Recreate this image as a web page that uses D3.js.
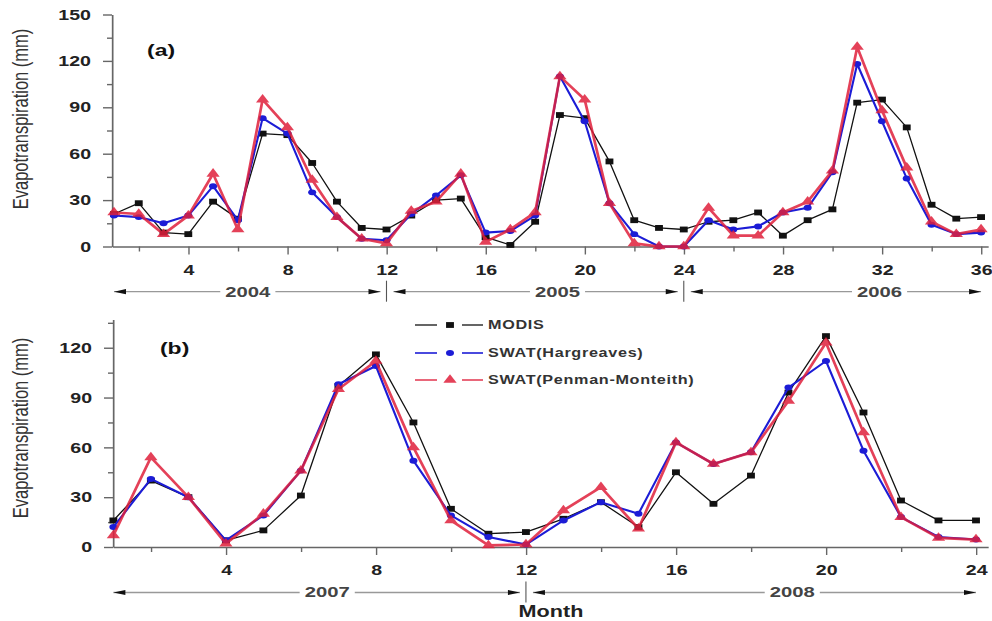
<!DOCTYPE html>
<html>
<head>
<meta charset="utf-8">
<script src="https://cdn.jsdelivr.net/npm/d3@7"></script>
<style>
  html, body { margin: 0; padding: 0; background: #fff; }
  svg { display: block; font-family: "Liberation Sans", Arial, sans-serif; }
  svg path, svg line { vector-effect: non-scaling-stroke; }
</style>
</head>
<body>
<div id="chart"></div>
<script>
// ---- data: monthly evapotranspiration (mm) ----
const monthsA = d3.range(1, 37);
const modisA = [21, 28, 9, 8, 29, 18, 73, 72, 54, 29, 12, 11,
                20, 30, 31, 6, 1, 16, 85, 83, 55, 17, 12, 11,
                16, 17, 22, 7, 17, 24, 93, 95, 77, 27, 18, 19];
const hargA  = [20, 19, 15, 20, 39, 17, 83, 73, 35, 19, 5, 4,
                21, 33, 46, 9, 10, 20, 110, 81, 28, 8, 0, 0,
                17, 11, 13, 22, 25, 48, 118, 81, 44, 14, 8, 9];
const pmA    = [22, 21, 8, 20, 47, 11, 95, 77, 43, 19, 5, 2,
                23, 29, 47, 3, 11, 22, 110, 95, 28, 2, 0, 0,
                25, 7, 7, 22, 29, 49, 129, 88, 51, 16, 8, 11];

const monthsB = d3.range(1, 25);
const modisB = [16, 40, 30, 4, 10, 31, 97, 116, 75, 23, 8, 9,
                17, 27, 12, 45, 26, 43, 93, 127, 81, 28, 16, 16];
const hargB  = [12, 41, 30, 4, 19, 46, 98, 109, 52, 19, 6, 1.5,
                16, 27, 20, 63, 50, 57, 96, 112, 58, 18, 6, 4.5];
const pmB    = [7, 54, 30, 2, 20, 46, 95, 112, 60, 16, 1, 1.5,
                22, 36, 11, 63, 50, 57, 88, 123, 69, 18, 5.5, 4.5];

const seriesNames = ["MODIS", "SWAT(Hargreaves)", "SWAT(Penman-Monteith)"];
const yearsA = ["2004", "2005", "2006"];
const yearSpansA = [[1, 12], [12, 24], [24, 36]];
const yearLabelAtA = [6.4, 18.9, 31.9];
const yearsB = ["2007", "2008"];
const yearSpansB = [[1, 12], [12, 24]];
const yearLabelAtB = [6.7, 19.1];

// ---- layout ----
const W = 992, H = 621;
const K = 1.35;              // the reference is stretched horizontally
const VW = W / K;
const sx = px => px / K;     // screen x -> drawing units

const styles = [
  { color: "#111", width: 1.3, symbol: d3.symbolSquare, size: 34, opacity: 1 },
  { color: "#1c1cd6", width: 2.1, symbol: d3.symbolCircle, size: 28, opacity: 1 },
  { color: "#e0203c", width: 2.7, symbol: d3.symbolTriangle, size: 42, opacity: 0.85 }
];

const svg = d3.select("#chart").append("svg")
  .attr("width", W)
  .attr("height", H)
  .attr("viewBox", `0 0 ${VW} ${H}`)
  .attr("preserveAspectRatio", "none");

function styleAxis(g) {
  g.select(".domain").attr("stroke", "#666").attr("stroke-width", 1.7);
  g.selectAll(".tick line").attr("stroke", "#666").attr("stroke-width", 1.4);
  g.selectAll(".tick text")
    .attr("font-family", "Liberation Sans, Arial, sans-serif")
    .attr("font-size", 14.5)
    .attr("font-weight", "bold")
    .attr("fill", "#222");
}

function arrowHead(g, tip, yy, dir) {
  const L = sx(12), h = 2.6;
  g.append("path")
    .attr("d", `M${tip},${yy}L${tip - dir * L},${yy - h}L${tip - dir * L},${yy + h}Z`)
    .attr("fill", "#111");
}

function yearBar(g, x, rowY, spans, labels, labelAt) {
  spans.forEach(([a, b], i) => {
    const x0 = x(a) + (i > 0 ? sx(7) : 0);
    const x1 = x(b) - (i < spans.length - 1 ? sx(6) : 0);
    g.append("line")
      .attr("x1", x0).attr("x2", x1)
      .attr("y1", rowY).attr("y2", rowY)
      .attr("stroke", "#999").attr("stroke-width", 1.3);
    arrowHead(g, x0, rowY, -1);
    arrowHead(g, x1, rowY, 1);
    const t = g.append("text")
      .attr("x", x(labelAt[i]))
      .attr("y", rowY + 5)
      .attr("text-anchor", "middle")
      .attr("font-size", 15)
      .attr("font-weight", "bold")
      .attr("fill", "#444")
      .text(labels[i]);
    const bb = t.node().getBBox();
    g.insert("rect", () => t.node())
      .attr("x", bb.x - sx(5)).attr("width", bb.width + sx(10))
      .attr("y", rowY - 3).attr("height", 6)
      .attr("fill", "#fff");
    if (i < spans.length - 1) {
      g.append("line")
        .attr("x1", x(b)).attr("x2", x(b))
        .attr("y1", rowY - 11).attr("y2", rowY + 10)
        .attr("stroke", "#555").attr("stroke-width", 1.1);
    }
  });
}

function drawPanel(p) {
  const x = d3.scaleLinear().domain(p.xDomain).range([sx(p.left), sx(p.right)]);
  const y = d3.scaleLinear().domain(p.yDomain).range([p.bottom, p.top]);
  const g = svg.append("g");

  // minor ticks
  g.append("g")
    .attr("transform", `translate(0,${p.bottom})`)
    .call(d3.axisBottom(x).tickValues(p.xMinor).tickSize(5).tickFormat("").tickSizeOuter(0))
    .call(a => a.select(".domain").remove())
    .call(styleAxis);
  g.append("g")
    .attr("transform", `translate(${sx(p.left)},0)`)
    .call(d3.axisLeft(y).tickValues(p.yMinor).tickSize(sx(5)).tickFormat("").tickSizeOuter(0))
    .call(a => a.select(".domain").remove())
    .call(styleAxis);

  // major ticks + axis lines
  g.append("g")
    .attr("transform", `translate(0,${p.bottom})`)
    .call(d3.axisBottom(x).tickValues(p.xMajor).tickSize(8).tickPadding(10)
      .tickFormat(d3.format("d")).tickSizeOuter(0))
    .call(styleAxis);
  g.append("g")
    .attr("transform", `translate(${sx(p.left)},0)`)
    .call(d3.axisLeft(y).tickValues(p.yMajor).tickSize(sx(9)).tickPadding(sx(12))
      .tickFormat(d3.format("d")).tickSizeOuter(0))
    .call(styleAxis);

  // y label
  g.append("text")
    .attr("transform", `translate(${sx(28)},${p.labelY}) rotate(-90)`)
    .attr("text-anchor", "middle")
    .attr("font-size", 16.5)
    .attr("fill", "#333")
    .text("Evapotranspiration (mm)");

  // panel tag
  g.append("text")
    .attr("x", sx(p.tagX)).attr("y", p.tagY)
    .attr("font-size", 17)
    .attr("font-weight", "bold")
    .attr("fill", "#111")
    .text(p.tag);

  // series
  const line = d3.line().x((d, i) => x(p.months[i])).y(d => y(d));
  p.series.forEach((vals, s) => {
    const st = styles[s];
    const sg = g.append("g").attr("opacity", st.opacity);
    sg.append("path")
      .attr("d", line(vals))
      .attr("fill", "none")
      .attr("stroke", st.color)
      .attr("stroke-width", st.width)
      .attr("stroke-linejoin", "round");
    sg.selectAll("path.mark")
      .data(vals)
      .join("path")
      .attr("class", "mark")
      .attr("transform", (d, i) => `translate(${x(p.months[i])},${y(d)})`)
      .attr("d", d3.symbol().type(st.symbol).size(st.size))
      .attr("fill", st.color);
  });

  yearBar(g, x, p.yearRow, p.spans, p.years, p.yearAt);
  return { x, y };
}

drawPanel({
  months: monthsA, series: [modisA, hargA, pmA],
  xDomain: [0.92, 36.28], left: 112, right: 988,
  yDomain: [0, 150], bottom: 246.5, top: 14.5,
  xMajor: d3.range(4, 37, 4), xMinor: d3.range(2, 37, 4),
  yMajor: d3.range(0, 151, 30), yMinor: d3.range(15, 150, 30),
  labelY: 119, tag: "(a)", tagX: 147, tagY: 56,
  yearRow: 291.7, spans: yearSpansA, years: yearsA, yearAt: yearLabelAtA
});

drawPanel({
  months: monthsB, series: [modisB, hargB, pmB],
  xDomain: [0.99, 24.32], left: 113, right: 988,
  yDomain: [0, 137], bottom: 547, top: 319.5,
  xMajor: d3.range(4, 25, 4), xMinor: d3.range(2, 25, 4),
  yMajor: d3.range(0, 121, 30), yMinor: d3.range(15, 137, 30),
  labelY: 428, tag: "(b)", tagX: 160, tagY: 354,
  yearRow: 592.5, spans: yearSpansB, years: yearsB, yearAt: yearLabelAtB
});

// x label
svg.append("text")
  .attr("x", sx(551)).attr("y", 617.5)
  .attr("text-anchor", "middle")
  .attr("font-size", 16)
  .attr("font-weight", "bold")
  .attr("fill", "#222")
  .text("Month");

// legend
const legend = svg.append("g");
const legendRows = [325, 353, 380];
seriesNames.forEach((name, i) => {
  const st = styles[i];
  const row = legend.append("g").attr("opacity", st.opacity);
  [[415, 437], [462, 483]].forEach(([a, b]) => {
    row.append("line")
      .attr("x1", sx(a)).attr("x2", sx(b))
      .attr("y1", legendRows[i]).attr("y2", legendRows[i])
      .attr("stroke", st.color).attr("stroke-width", Math.min(st.width, 1.6));
  });
  row.append("path")
    .attr("transform", `translate(${sx(450)},${legendRows[i]})`)
    .attr("d", d3.symbol().type(st.symbol).size(st.size))
    .attr("fill", st.color);
  legend.append("text")
    .attr("x", sx(488)).attr("y", legendRows[i])
    .attr("dy", "0.36em")
    .attr("font-size", 12)
    .attr("font-weight", "bold")
    .attr("letter-spacing", 0.5)
    .attr("fill", "#333")
    .text(name);
});
</script>
</body>
</html>
